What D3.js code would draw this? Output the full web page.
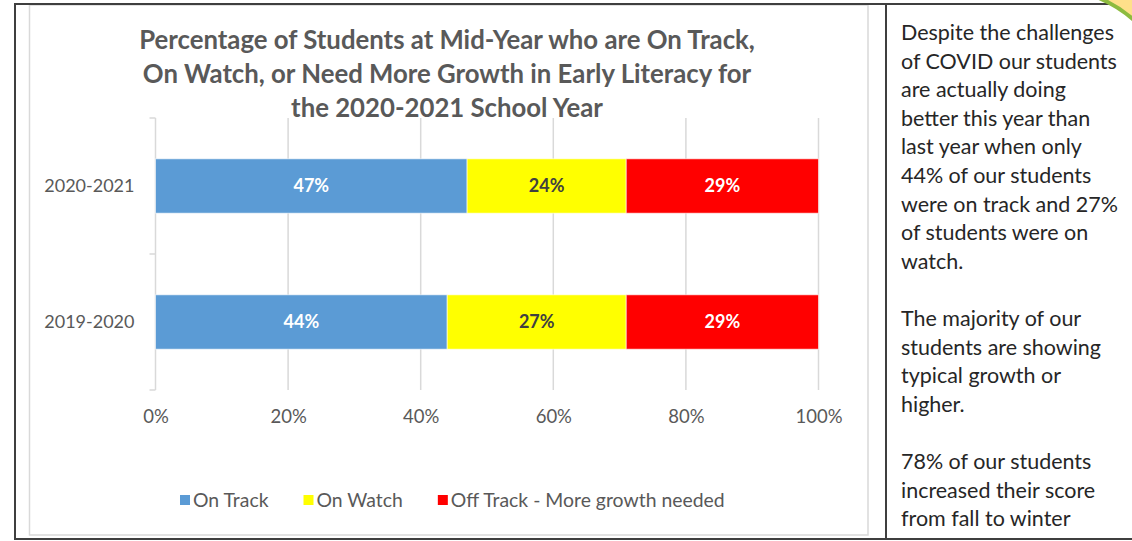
<!DOCTYPE html>
<html>
<head>
<meta charset="utf-8">
<script src="https://cdn.jsdelivr.net/npm/d3@7"></script>
<style>
  html, body { margin: 0; padding: 0; background: #fff; }
  svg { display: block; font-family: Calibri, Carlito, Lato, "Open Sans", sans-serif; }
</style>
</head>
<body>
<svg id="chart" width="1132" height="541"></svg>
<script>
// Mid-year early literacy status, share of students per school year
const years = ["2020-2021", "2019-2020"];
const seriesNames = ["On Track", "On Watch", "Off Track - More growth needed"];
const onTrack = [0.47, 0.44];
const onWatch = [0.24, 0.27];
const offTrack = [0.29, 0.29];
const xTicks = [0, 0.2, 0.4, 0.6, 0.8, 1.0];
const seriesColors = ["#5b9bd5", "#ffff00", "#ff0000"];
const labelColors = ["#ffffff", "#404040", "#ffffff"];

const titleLines = [
  "Percentage of Students at Mid-Year who are On Track,",
  "On Watch, or Need More Growth in Early Literacy for",
  "the 2020-2021 School Year"
];
const noteLines = [
  "Despite the challenges",
  "of COVID our students",
  "are actually doing",
  "better this year than",
  "last year when only",
  "44% of our students",
  "were on track and 27%",
  "of students were on",
  "watch.",
  "",
  "The majority of our",
  "students are showing",
  "typical growth or",
  "higher.",
  "",
  "78% of our students",
  "increased their score",
  "from fall to winter"
];

const svg = d3.select("#chart");

// scale a group of text lines so the reference line spans the given width
function fitSize(sel, refNode, target, base) {
  const w = refNode.getComputedTextLength();
  const size = base * target / w;
  sel.style("font-size", size + "px");
  return size;
}

// ---- frame ----
const frame = { left: 15, top: 4, right: 1140, bottom: 539, divider: 886 };
const chartBox = { left: 29.5, top: 5, right: 868, bottom: 535 };

svg.append("rect")
  .attr("x", chartBox.left).attr("y", chartBox.top)
  .attr("width", chartBox.right - chartBox.left)
  .attr("height", chartBox.bottom - chartBox.top)
  .attr("fill", "#fff").attr("stroke", "#d9d9d9").attr("stroke-width", 1.5);

// ---- scales ----
const x = d3.scaleLinear().domain([0, 1]).range([155.5, 818.5]);
const y = d3.scaleBand().domain(years).range([118, 390]).padding(0);
const barFrac = 0.4;
const barH = y.bandwidth() * barFrac;

// stacked layout
const rows = years.map((yr, i) => ({ year: yr, "On Track": onTrack[i], "On Watch": onWatch[i], "Off Track - More growth needed": offTrack[i] }));
const stacked = d3.stack().keys(seriesNames)(rows);

// ---- gridlines ----
const plot = svg.append("g");
plot.selectAll("line.grid")
  .data(xTicks.slice(1))
  .join("line")
  .attr("class", "grid")
  .attr("x1", d => x(d)).attr("x2", d => x(d))
  .attr("y1", y.range()[0]).attr("y2", y.range()[1])
  .attr("stroke", "#d9d9d9").attr("stroke-width", 1.5);

// category axis line with boundary ticks
plot.append("line")
  .attr("x1", x(0)).attr("x2", x(0))
  .attr("y1", y.range()[0]).attr("y2", y.range()[1])
  .attr("stroke", "#d9d9d9").attr("stroke-width", 1.5);
const bounds = years.map(d => y(d)).concat([y.range()[1]]);
plot.selectAll("line.ytick")
  .data(bounds)
  .join("line")
  .attr("class", "ytick")
  .attr("x1", x(0) - 6).attr("x2", x(0))
  .attr("y1", d => d).attr("y2", d => d)
  .attr("stroke", "#d9d9d9").attr("stroke-width", 1.5);

// ---- bars ----
const layers = plot.selectAll("g.layer")
  .data(stacked)
  .join("g")
  .attr("class", "layer")
  .attr("fill", (d, i) => seriesColors[i]);

layers.selectAll("rect")
  .data(d => d)
  .join("rect")
  .attr("x", d => x(d[0]))
  .attr("width", d => x(d[1]) - x(d[0]))
  .attr("y", d => y(d.data.year) + (y.bandwidth() - barH) / 2)
  .attr("height", barH)
  .attr("stroke", "rgba(255,255,255,0.6)")
  .attr("stroke-width", 1);

// data labels
stacked.forEach((layer, i) => {
  plot.append("g").selectAll("text")
    .data(layer)
    .join("text")
    .attr("x", d => (x(d[0]) + x(d[1])) / 2)
    .attr("y", d => y(d.data.year) + y.bandwidth() / 2)
    .attr("dy", "0.36em")
    .attr("text-anchor", "middle")
    .attr("fill", labelColors[i])
    .style("font-family", "Lato, sans-serif")
    .style("font-weight", "bold")
    .style("font-size", "18px")
    .text(d => Math.round((d[1] - d[0]) * 100) + "%");
});

// ---- axes ----
const xAxis = svg.append("g")
  .attr("transform", `translate(0,${y.range()[1]})`)
  .call(d3.axisBottom(x).tickValues(xTicks).tickSize(0).tickPadding(20).tickFormat(d3.format(".0%")));
xAxis.select(".domain").remove();
xAxis.selectAll("text")
  .attr("fill", "#595959")
  .style("font-family", "Lato, sans-serif")
  .style("font-size", "18.5px");

const yAxis = svg.append("g")
  .attr("transform", `translate(${x(0)},0)`)
  .call(d3.axisLeft(y).tickSize(0).tickPadding(21));
yAxis.select(".domain").remove();
yAxis.selectAll("text")
  .attr("fill", "#595959")
  .style("font-family", "Lato, sans-serif")
  .style("font-size", "18px");

// ---- title ----
const titleX = 447;
const title = svg.append("g")
  .style("font-family", "Lato, sans-serif")
  .style("font-weight", "bold")
  .attr("fill", "#595959");
const titleText = title.selectAll("text")
  .data(titleLines)
  .join("text")
  .attr("x", titleX)
  .attr("y", (d, i) => 49 + i * 34)
  .attr("text-anchor", "middle")
  .style("font-size", "20px")
  .text(d => d);
fitSize(titleText, titleText.nodes()[0], 616, 20);

// ---- legend ----
const legend = svg.append("g")
  .attr("transform", "translate(180,500)")
  .style("font-family", "Lato, sans-serif")
  .style("font-size", "19.4px");
let lx = 0;
seriesNames.forEach((name, i) => {
  const item = legend.append("g").attr("transform", `translate(${lx},0)`);
  item.append("rect")
    .attr("x", 0).attr("y", -5)
    .attr("width", 10).attr("height", 10)
    .attr("fill", seriesColors[i]);
  const t = item.append("text")
    .attr("x", 13).attr("dy", "0.36em")
    .attr("fill", "#595959")
    .text(name);
  lx += 13 + t.node().getComputedTextLength() + 35;
});

// ---- commentary panel ----
const note = svg.append("g")
  .style("font-family", "Lato, sans-serif")
  .attr("fill", "#262626");
const noteText = note.selectAll("text")
  .data(noteLines)
  .join("text")
  .attr("x", 901)
  .attr("y", (d, i) => 40 + i * 28.6)
  .style("font-size", "19px")
  .text(d => d);
fitSize(noteText, noteText.nodes()[0], 213, 19);

// ---- outer frame and divider ----
svg.append("rect")
  .attr("x", frame.left).attr("y", frame.top)
  .attr("width", frame.right - frame.left)
  .attr("height", frame.bottom - frame.top)
  .attr("fill", "none").attr("stroke", "#3f3f3f").attr("stroke-width", 2);
svg.append("line")
  .attr("x1", frame.divider).attr("x2", frame.divider)
  .attr("y1", frame.top).attr("y2", frame.bottom)
  .attr("stroke", "#3f3f3f").attr("stroke-width", 2);

// corner of a neighbouring rounded callout shape
svg.append("path")
  .attr("d", "M1099,-2 Q1118,6 1134,20 L1134,-2 Z")
  .attr("fill", "#ffe08a");
svg.append("path")
  .attr("d", "M1099,-2 Q1118,6 1134,20")
  .attr("fill", "none").attr("stroke", "#8dbb3f").attr("stroke-width", 4);
</script>
</body>
</html>
